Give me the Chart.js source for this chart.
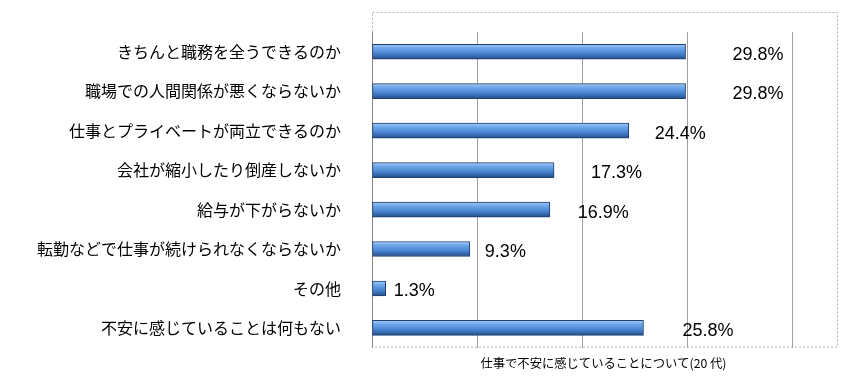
<!DOCTYPE html>
<html>
<head>
<meta charset="utf-8">
<script src="https://cdn.jsdelivr.net/npm/chart.js@4/dist/chart.umd.min.js"></script>
<style>
	body { margin: 0; background: #fff; }
	#wrap { width: 849px; height: 382px; }
	canvas { display: block; }
</style>
</head>
<body>
<div id="wrap"><canvas id="myChart" width="849" height="382"></canvas></div>
<script>
/* globals Chart:false */
const categories = [
	'きちんと職務を全うできるのか',
	'職場での人間関係が悪くならないか',
	'仕事とプライベートが両立できるのか',
	'会社が縮小したり倒産しないか',
	'給与が下がらないか',
	'転勤などで仕事が続けられなくならないか',
	'その他',
	'不安に感じていることは何もない'
];
const values = [29.8, 29.8, 24.4, 17.3, 16.9, 9.3, 1.3, 25.8];
const axisTitle = '仕事で不安に感じていることについて(20 代)';

// label nudges, as placed by hand in the original
const labelShift = [47, 47, 26, 37, 28, 15, 8, 39];

function barFill(c) {
	const chart = c.chart;
	const yScale = chart.scales.y;
	if (!yScale || c.dataIndex == null) return '#4a86d0';
	const y = yScale.getPixelForValue(c.dataIndex);
	if (!isFinite(y)) return '#4a86d0';
	const g = chart.ctx.createLinearGradient(0, y - 7.5, 0, y + 7.5);
	g.addColorStop(0, '#a4ccf6');
	g.addColorStop(0.25, '#6ea8ea');
	g.addColorStop(0.65, '#4680cc');
	g.addColorStop(1, '#234c86');
	return g;
}

const frame = {
	id: 'frame',
	beforeDraw(chart) {
		const a = chart.chartArea;
		const ctx = chart.ctx;
		ctx.save();
		ctx.strokeStyle = '#b0b0b0';
		ctx.lineWidth = 1;
		ctx.setLineDash([2, 2]);
		ctx.strokeRect(a.left + 0.5, a.top - 19.5, a.right - a.left + 2, a.bottom - a.top + 19);
		ctx.restore();
	}
};

const valueLabels = {
	id: 'valueLabels',
	afterDatasetsDraw(chart) {
		const ctx = chart.ctx;
		ctx.save();
		ctx.font = '18px "Liberation Sans", Arial, sans-serif';
		ctx.fillStyle = '#000';
		ctx.textAlign = 'left';
		ctx.textBaseline = 'middle';
		chart.getDatasetMeta(0).data.forEach((bar, i) => {
			ctx.fillText(values[i].toFixed(1) + '%', bar.x + labelShift[i], bar.y + 3);
		});
		ctx.restore();
	}
};

new Chart(document.getElementById('myChart'), {
	type: 'bar',
	data: {
		labels: categories,
		datasets: [{
			data: values,
			backgroundColor: barFill,
			borderColor: '#1f3f70',
			borderWidth: 1,
			borderSkipped: false,
			barThickness: 15
		}]
	},
	plugins: [frame, valueLabels],
	options: {
		indexAxis: 'y',
		responsive: false,
		animation: false,
		layout: {
			padding: { top: 32, right: 14, bottom: 11.6, left: 37 }
		},
		plugins: {
			legend: { display: false },
			tooltip: { enabled: false }
		},
		scales: {
			x: {
				min: 0,
				max: 44,
				afterBuildTicks(scale) {
					scale.ticks = scale.ticks.filter(t => t.value % 10 === 0);
				},
				ticks: { display: false, stepSize: 10 },
				grid: { color: '#a0a0a0', lineWidth: 1, drawTicks: false },
				border: { display: false },
				title: {
					display: true,
					text: axisTitle,
					color: '#000',
					font: { family: '"Noto Sans CJK JP"', size: 12.3 },
					padding: { top: 8, bottom: 0 }
				}
			},
			y: {
				ticks: {
					color: '#000',
					padding: 0,
					font: { family: '"Noto Sans CJK JP"', size: 16 }
				},
				grid: { color: 'transparent', drawTicks: true, tickLength: 31 },
				border: { display: true, color: '#888', width: 1 }
			}
		}
	}
});
</script>
</body>
</html>
